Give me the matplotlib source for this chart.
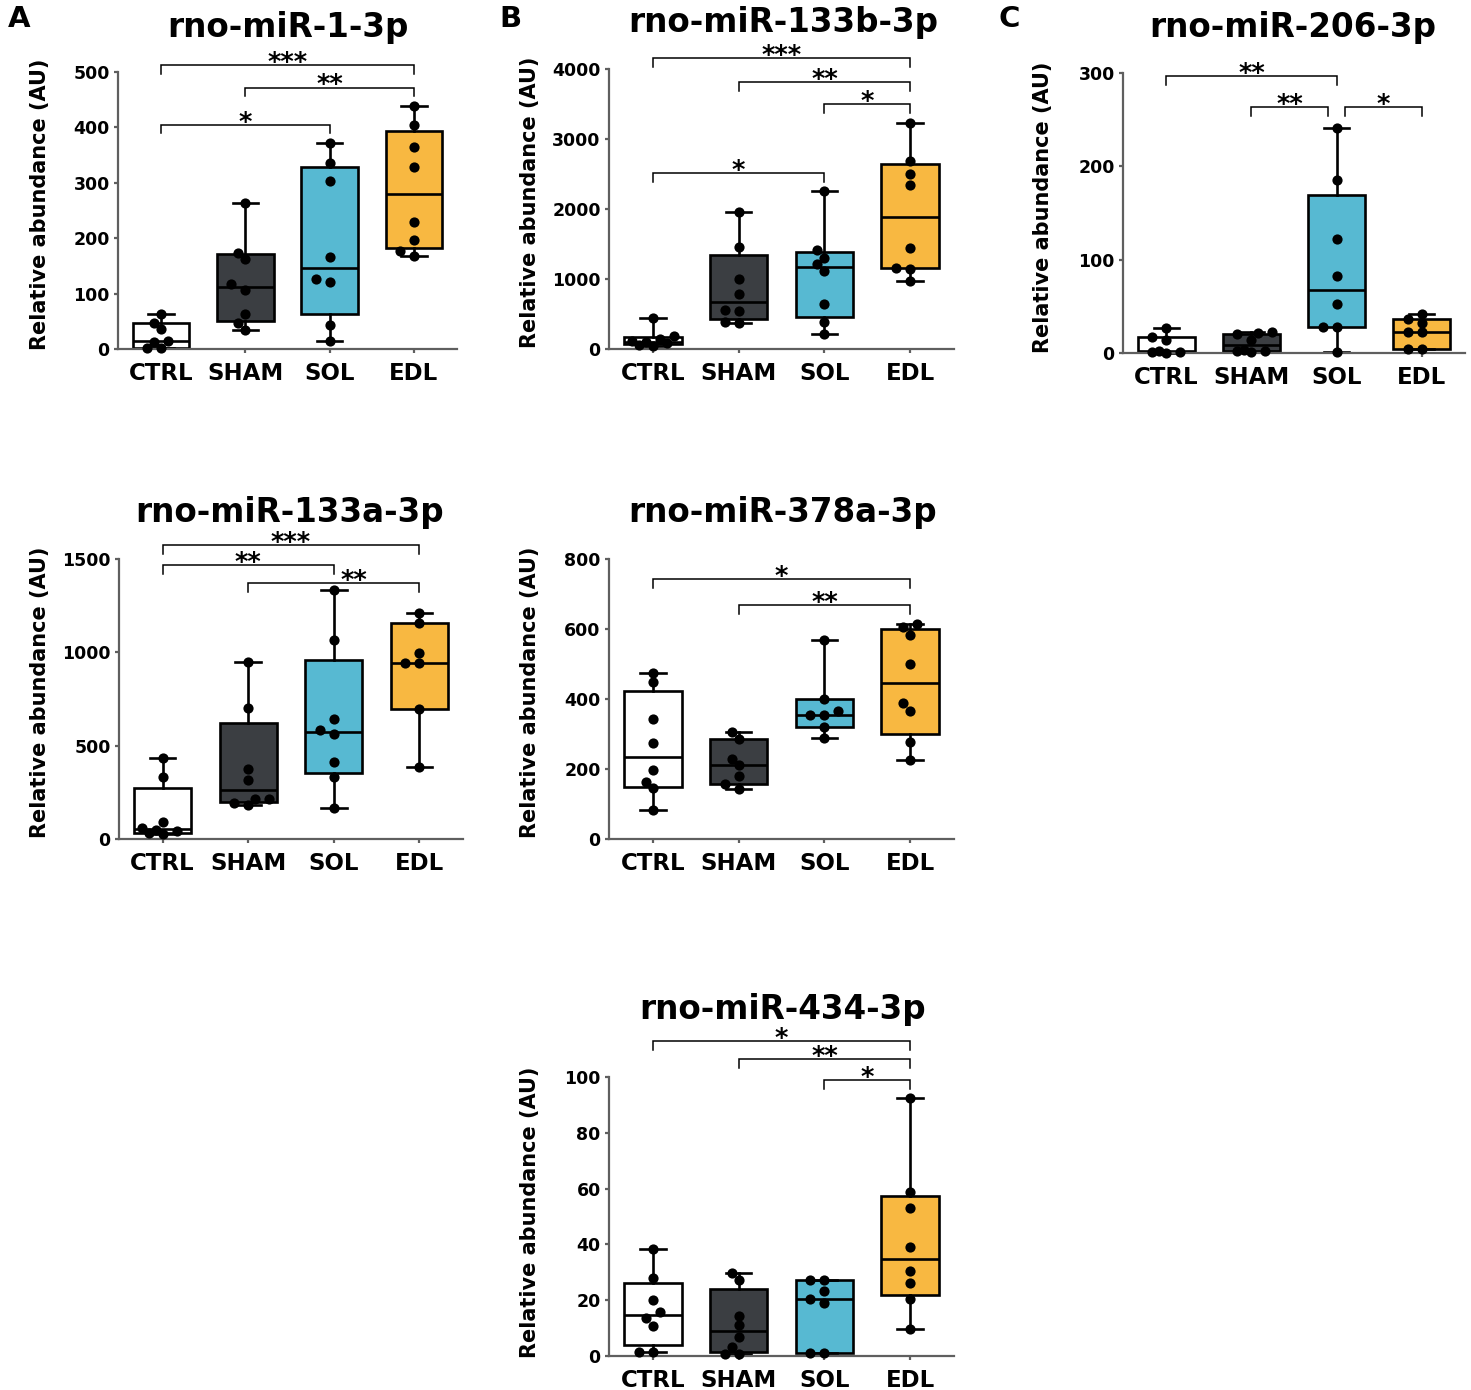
import numpy as np
import matplotlib
matplotlib.use("Agg")
import matplotlib.pyplot as plt

# ---------------- data ----------------
GROUPS = ["CTRL", "SHAM", "SOL", "EDL"]
BOX_COLORS = ["#ffffff", "#3b3e42", "#57b9d2", "#f8b841"]

# A: rno-miR-1-3p
mir1_ctrl = [63, 47, 36, 12, 15, 1, 1]
mir1_sham = [264, 174, 163, 117, 107, 63, 47, 34]
mir1_sol = [372, 336, 304, 166, 121, 126, 44, 15]
mir1_edl = [438, 404, 365, 329, 230, 197, 168, 177]

# B: rno-miR-133b-3p
mir133b_ctrl = [440, 185, 150, 110, 95, 80, 60, 40]
mir133b_sham = [1952, 1452, 995, 786, 548, 557, 380, 365]
mir133b_sol = [2257, 1414, 1295, 1210, 1119, 643, 390, 210]
mir133b_edl = [3224, 2690, 2500, 2338, 1438, 1162, 1148, 971]

# C: rno-miR-206-3p
mir206_ctrl = [27, 14, 17, 2, 1.5, 1, 0.5]
mir206_sham = [22, 21, 20, 14, 3, 2, 2, 1]
mir206_sol = [241, 185, 122, 83, 52, 28, 28, 0.7]
mir206_edl = [42, 36, 32, 22, 22, 4, 4]

# rno-miR-133a-3p
mir133a_ctrl = [432, 334, 90, 60, 50, 45, 30, 25]
mir133a_sham = [950, 704, 375, 316, 214, 214, 195, 182]
mir133a_sol = [1334, 1066, 643, 584, 561, 411, 334, 164]
mir133a_edl = [1209, 1155, 998, 941, 941, 695, 384]

# rno-miR-378a-3p
mir378a_ctrl = [475, 448, 344, 273, 197, 162, 145, 83]
mir378a_sham = [305, 285, 229, 211, 180, 157, 142]
mir378a_sol = [569, 400, 366, 354, 354, 321, 288]
mir378a_edl = [613, 607, 583, 499, 390, 366, 278, 226]

# rno-miR-434-3p
mir434_ctrl = [38.5, 28, 20, 15.6, 13.6, 10.7, 1.6, 1.6]
mir434_sham = [29.8, 27.2, 14.3, 11, 6.7, 3.3, 0.7, 0.7]
mir434_sol = [27.4, 27.4, 23.3, 20.3, 19.1, 1, 1]
mir434_edl = [92.6, 58.8, 53.1, 38.9, 30.4, 26.3, 20.6, 9.5]

# significance brackets: (group from, group to, label, bracket height)
sig_mir1 = [(0, 3, "***", 513), (1, 3, "**", 472), (0, 2, "*", 405)]
sig_mir133b = [(0, 3, "***", 4152), (1, 3, "**", 3819), (2, 3, "*", 3500), (0, 2, "*", 2510)]
sig_mir206 = [(0, 2, "**", 297), (1, 1.9, "**", 263.6), (2.1, 3, "*", 263.6)]
sig_mir133a = [(0, 3, "***", 1575), (0, 2, "**", 1468), (1, 3, "**", 1370)]
sig_mir378a = [(0, 3, "*", 742), (1, 3, "**", 669)]
sig_mir434 = [(0, 3, "*", 113), (1, 3, "**", 106.6), (2, 3, "*", 99)]

# ---------------- layout ----------------
W, H = 1471, 1390
fig = plt.figure(figsize=(W / 100, H / 100), dpi=100)
plt.rcParams["font.family"] = ["DejaVu Sans"]
plt.rcParams["font.weight"] = "bold"

AXGRAY = "#5f5f5f"

panels = [
    dict(title="rno-miR-1-3p", data=[mir1_ctrl, mir1_sham, mir1_sol, mir1_edl], ymax=500, step=100,
         sig=sig_mir1, box=(118, 457, 72, 349), title_xy=(288, 37), ylab_xy=(50, 204), letter=("A", 8)),
    dict(title="rno-miR-133b-3p", data=[mir133b_ctrl, mir133b_sham, mir133b_sol, mir133b_edl], ymax=4000, step=1000,
         sig=sig_mir133b, box=(609, 954, 69, 349), title_xy=(783, 32), ylab_xy=(540, 202), letter=("B", 499)),
    dict(title="rno-miR-206-3p", data=[mir206_ctrl, mir206_sham, mir206_sol, mir206_edl], ymax=300, step=100,
         sig=sig_mir206, box=(1123, 1465, 73, 353), title_xy=(1293, 37), ylab_xy=(1053, 207), letter=("C", 999)),
    dict(title="rno-miR-133a-3p", data=[mir133a_ctrl, mir133a_sham, mir133a_sol, mir133a_edl], ymax=1500, step=500,
         sig=sig_mir133a, box=(119, 463, 559, 839), title_xy=(290, 522), ylab_xy=(50, 692), letter=None,
         text_shift={2: 0.23}),
    dict(title="rno-miR-378a-3p", data=[mir378a_ctrl, mir378a_sham, mir378a_sol, mir378a_edl], ymax=800, step=200,
         sig=sig_mir378a, box=(609, 954, 559, 839), title_xy=(783, 522), ylab_xy=(540, 692), letter=None),
    dict(title="rno-miR-434-3p", data=[mir434_ctrl, mir434_sham, mir434_sol, mir434_edl], ymax=100, step=20,
         sig=sig_mir434, box=(609, 954, 1077, 1356), title_xy=(783, 1019), ylab_xy=(540, 1212), letter=None),
]


def fx(x):
    return x / W


def fy(y):
    return 1 - y / H


def swarm_offsets(ax, vals, x0, diam_px=9.0, step_px=7.0, kmax=3):
    t = ax.transData
    px_per_x = t.transform((1, 0))[0] - t.transform((0, 0))[0]
    ypx = [t.transform((x0, v))[1] for v in vals]
    order = sorted(range(len(vals)), key=lambda i: vals[i])
    cands = sorted([k * step_px for k in range(-kmax, kmax + 1)], key=lambda v: (abs(v), v))
    placed = []
    offs = [0.0] * len(vals)
    for i in order:
        best, best_d = 0.0, -1.0
        for c in cands:
            d = min([np.hypot(c - px, ypx[i] - py) for px, py in placed] or [1e9])
            if d >= diam_px:
                best = c
                break
            if d > best_d:
                best, best_d = c, d
        placed.append((best, ypx[i]))
        offs[i] = best / px_per_x
    return offs


for p in panels:
    l, r, t, b = p["box"]
    ax = fig.add_axes([fx(l), fy(b), (r - l) / W, (b - t) / H])
    ax.set_xlim(-0.51, 3.51)
    ax.set_ylim(0, p["ymax"])

    stats = []
    for vals in p["data"]:
        q1, med, q3 = np.percentile(vals, [25, 50, 75], method="weibull")
        stats.append(dict(med=med, q1=q1, q3=q3, whislo=min(vals), whishi=max(vals), fliers=[]))
    lw = 1.9
    bp = ax.bxp(stats, positions=range(4), widths=0.67, capwidths=0.3, patch_artist=True,
                showfliers=False, manage_ticks=False,
                boxprops=dict(edgecolor="black", linewidth=lw),
                medianprops=dict(color="black", linewidth=lw),
                whiskerprops=dict(color="black", linewidth=lw),
                capprops=dict(color="black", linewidth=lw))
    for patch, c in zip(bp["boxes"], BOX_COLORS):
        patch.set_facecolor(c)
        patch.set_clip_on(False)
    for key in ("whiskers", "caps", "medians"):
        for ln in bp[key]:
            ln.set_clip_on(False)

    for i, vals in enumerate(p["data"]):
        offs = swarm_offsets(ax, vals, i)
        ax.scatter([i + o for o in offs], vals, s=54, color="black", zorder=4, clip_on=False,
                   linewidths=0)

    # significance brackets
    leg = 0.032 * p["ymax"]
    shifts = p.get("text_shift", {})
    for k, (g1, g2, lab, yb) in enumerate(p["sig"]):
        ax.plot([g1, g1, g2, g2], [yb - leg, yb, yb, yb - leg], color="black", lw=1.1,
                clip_on=False, zorder=5, solid_joinstyle="miter")
        ax.annotate(lab, xy=((g1 + g2) / 2 + shifts.get(k, 0), yb), xytext=(0, -4.3),
                    textcoords="offset points", ha="center", va="baseline",
                    fontsize=18.5, fontweight="bold", annotation_clip=False)

    # axes styling
    for s in ("top", "right"):
        ax.spines[s].set_visible(False)
    for s in ("left", "bottom"):
        ax.spines[s].set_color(AXGRAY)
        ax.spines[s].set_linewidth(1.6)
    ax.set_yticks(np.arange(0, p["ymax"] + p["step"] / 2, p["step"]))
    ax.set_yticklabels([f"{int(v)}" for v in ax.get_yticks()])
    ax.set_xticks(range(4))
    ax.set_xticklabels(GROUPS)
    ax.tick_params(axis="y", length=3, width=1.6, color=AXGRAY, pad=3, labelsize=12.5)
    ax.tick_params(axis="x", length=3, width=1.6, color=AXGRAY, pad=6.5, labelsize=16.5)
    for lab in ax.get_xticklabels() + ax.get_yticklabels():
        lab.set_fontweight("bold")

    # title, y label, panel letter
    tx, ty = p["title_xy"]
    fig.text(fx(tx), fy(ty), p["title"], ha="center", va="baseline", fontsize=23.5, fontweight="bold")
    lx, ly = p["ylab_xy"]
    fig.text(fx(lx), fy(ly), "Relative abundance (AU)", rotation=90, ha="right", va="center",
             fontsize=15, fontweight="bold")
    if p["letter"]:
        letter, lxx = p["letter"]
        fig.text(fx(lxx), fy(27), letter, ha="left", va="baseline", fontsize=21, fontweight="bold")

fig.savefig("out.png", dpi=100, facecolor="white")
